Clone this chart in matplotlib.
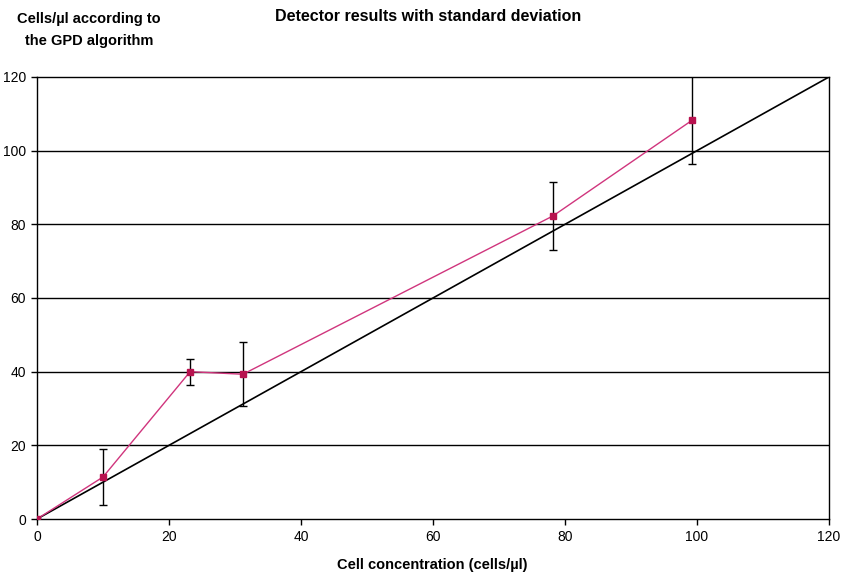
import numpy as np
import matplotlib.pyplot as plt

plt.rcParams['font.family'] = ['Liberation Sans', 'DejaVu Sans']

# detector readings vs. reference concentration
conc = [0, 10.0, 23.2, 31.2, 78.2, 99.3]
measured = [0, 11.4, 40.0, 39.3, 82.3, 108.3]
std_dev = [0, 7.5, 3.5, 8.7, 9.3, 12.0]

ideal = [0, 120]
ticks = [0, 20, 40, 60, 80, 100, 120]

fig = plt.figure(figsize=(8.41, 5.81), dpi=100)
ax = fig.add_axes([0.044, 0.1067, 0.9417, 0.7608])

for t in ticks[1:-1]:
    ax.axhline(t, color='black', lw=1.0, zorder=1)

ax.plot(ideal, ideal, color='black', lw=1.2, zorder=2)
ax.errorbar(conc, measured, yerr=std_dev, color='#d0357d', lw=1.0,
            marker='s', markersize=5, markerfacecolor='#b8124f',
            markeredgecolor='#b8124f', ecolor='black', elinewidth=1.0,
            capsize=3, capthick=1.0, zorder=3)

ax.set_xlim(0, 120)
ax.set_ylim(0, 120)
ax.set_xticks(ticks)
ax.set_yticks(ticks)
for s in ax.spines.values():
    s.set_color('black')
    s.set_linewidth(1.0)
ax.tick_params(direction='out', length=4, width=1.0, labelsize=10, pad=4)
for lbl in ax.get_xticklabels() + ax.get_yticklabels():
    lbl.set_fontstretch('condensed')

fig.text(0.509, 0.971, 'Detector results with standard deviation',
         ha='center', va='center', fontsize=11.5, fontweight='bold')
fig.text(0.106, 0.949, 'Cells/\u00b5l according to\nthe GPD algorithm',
         ha='center', va='center', fontsize=10.5, fontweight='bold',
         linespacing=1.75)
fig.text(0.514, 0.028, 'Cell concentration (cells/\u00b5l)',
         ha='center', va='center', fontsize=10.5, fontweight='bold')

fig.savefig('out.png', dpi=100, facecolor='white')
